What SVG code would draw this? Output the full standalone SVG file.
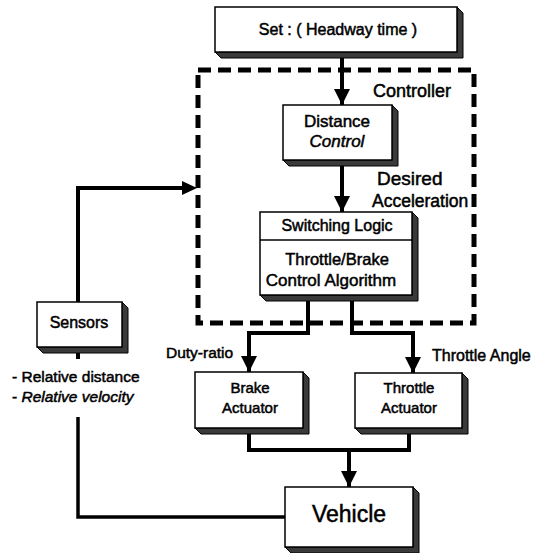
<svg xmlns="http://www.w3.org/2000/svg" width="547" height="553" viewBox="0 0 547 553">
<defs>
<marker id="ah" markerUnits="userSpaceOnUse" markerWidth="16" markerHeight="20" refX="16" refY="8" orient="auto" viewBox="0 0 16 16">
<path d="M0,0 L16,8 L0,16 Z" fill="#000"/>
</marker>
</defs>
<style>
text{font-family:"Liberation Sans",Arial,sans-serif;fill:#000;stroke:#000;stroke-width:0.5}
.box{fill:#fff;stroke:#000;stroke-width:1.5}
.sh{fill:#3a3a3a;stroke:#000;stroke-width:1}
.c{text-anchor:middle}
.w{fill:none;stroke:#000;stroke-width:4}
.wa{fill:none;stroke:#000;stroke-width:4;marker-end:url(#ah)}
</style>
<rect width="547" height="553" fill="#fff"/>

<g id="controller">
<rect x="198" y="70" width="276" height="253" fill="none" stroke="#000" stroke-width="5" stroke-dasharray="13 7"/>
<text x="373" y="97" font-size="18">Controller</text>
</g>

<g id="connectors">
<path class="wa" d="M342,57 V105"/>
<path class="wa" d="M342,166 V212"/>
<path class="wa" d="M308,301 V333 H249 V372"/>
<path class="wa" d="M352,301 V333 H413 V373"/>
<path class="w" d="M249,434 V450 H409 V434"/>
<path class="wa" d="M349,450 V487"/>
<path class="w" d="M78,302 V188 H182"/>
<path d="M182,181 L197,188 L182,195 Z" fill="#000"/>
<path class="w" d="M78,353 V359"/>
<path fill="none" stroke="#000" stroke-width="3.5" d="M78,417 V517 H285"/>
</g>

<g id="set">
<path class="sh" d="M457,7 L463,13 V58 H221 L215,52 H457 Z"/>
<rect class="box" x="215" y="7" width="242" height="45"/>
<text class="c" x="338" y="35" font-size="16">Set : ( Headway time )</text>
</g>

<g id="distance">
<path class="sh" d="M392,105 L398,111 V166 H289 L283,160 H392 Z"/>
<rect class="box" x="283" y="105" width="109" height="55"/>
<text class="c" x="337" y="127" font-size="17">Distance</text>
<text class="c" x="337" y="147" font-size="17" font-style="italic">Control</text>
</g>

<text x="377" y="185" font-size="19">Desired</text>
<text x="372" y="207" font-size="17.5">Acceleration</text>

<g id="switching">
<path class="sh" d="M412,212 L418,218 V301 H266 L260,295 H412 Z"/>
<rect class="box" x="260" y="212" width="152" height="83"/>
<line x1="260" y1="240" x2="412" y2="240" stroke="#000" stroke-width="1.5"/>
<text class="c" x="337" y="231" font-size="16">Switching Logic</text>
<text class="c" x="337" y="265" font-size="16.5">Throttle/Brake</text>
<text class="c" x="331" y="286" font-size="17">Control Algorithm</text>
</g>

<g id="sensors">
<path class="sh" d="M122,302 L128,308 V353 H43 L37,347 H122 Z"/>
<rect class="box" x="37" y="302" width="85" height="45"/>
<text class="c" x="79" y="328" font-size="16">Sensors</text>
</g>
<text x="12" y="382" font-size="15.5">- Relative distance</text>
<text x="12" y="402" font-size="15.5">- <tspan font-style="italic">Relative velocity</tspan></text>

<text x="166" y="358" font-size="15.5">Duty-ratio</text>
<text x="432" y="361" font-size="16">Throttle Angle</text>

<g id="brake">
<path class="sh" d="M303,372 L309,378 V434 H201 L195,428 H303 Z"/>
<rect class="box" x="195" y="372" width="108" height="56"/>
<text class="c" x="250" y="393" font-size="15">Brake</text>
<text class="c" x="250" y="413" font-size="15">Actuator</text>
</g>

<g id="throttle">
<path class="sh" d="M462,373 L468,379 V434 H361 L355,428 H462 Z"/>
<rect class="box" x="355" y="373" width="107" height="55"/>
<text class="c" x="409" y="393" font-size="15">Throttle</text>
<text class="c" x="409" y="413" font-size="15">Actuator</text>
</g>

<g id="vehicle">
<path class="sh" d="M413,487 L419,493 V553 H291 L285,547 H413 Z"/>
<rect class="box" x="285" y="487" width="128" height="60"/>
<text class="c" x="349" y="522" font-size="23">Vehicle</text>
</g>
</svg>
